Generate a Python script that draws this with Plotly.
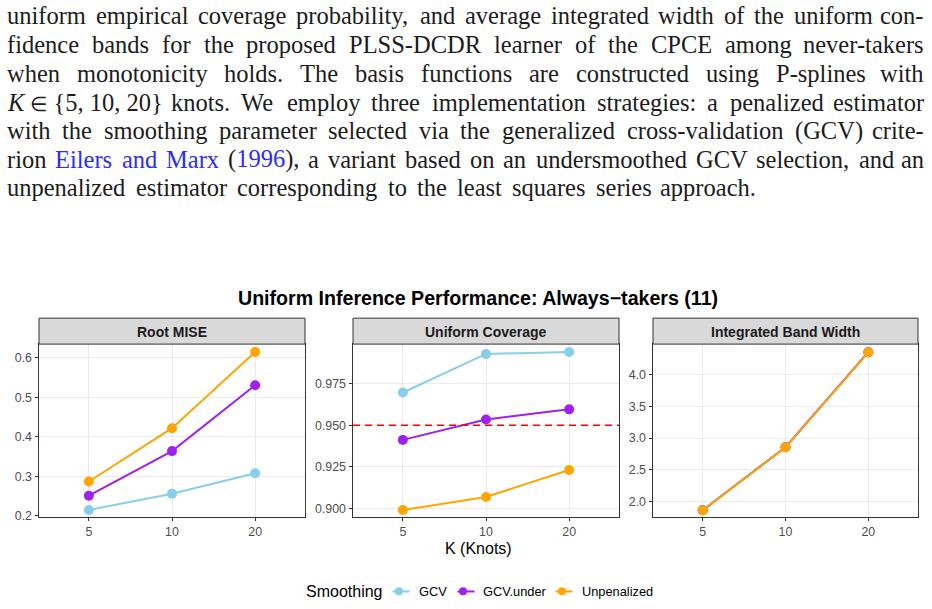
import re
import plotly.graph_objects as go

W, H = 932, 609

# ---------------- data ----------------
knots = ["5", "10", "20"]
series_names = ["GCV", "GCV.under", "Unpenalized"]
series_colors = ["#87CEEB", "#A020F0", "#FFA500"]

rmise_gcv = [0.215, 0.256, 0.308]
rmise_under = [0.251, 0.364, 0.531]
rmise_unpen = [0.287, 0.422, 0.615]

cov_gcv = [0.9696, 0.9927, 0.9939]
cov_under = [0.9412, 0.9534, 0.9595]
cov_unpen = [0.8992, 0.9070, 0.9232]

bw_gcv = [1.862, 2.858, 4.358]
bw_under = [1.860, 2.855, 4.355]
bw_unpen = [1.858, 2.853, 4.353]

nominal_level = 0.95

panel_titles = ["Root MISE", "Uniform Coverage", "Integrated Band Width"]
main_title = "Uniform Inference Performance: Always\u2212takers (11)"
x_title = "K (Knots)"
legend_title = "Smoothing"

rmise_ticks = [0.2, 0.3, 0.4, 0.5, 0.6]
cov_ticks = [0.900, 0.925, 0.950, 0.975]
bw_ticks = [2.0, 2.5, 3.0, 3.5, 4.0]

BLUE = "#2b2bff"
paragraph_lines = [
    "uniform empirical coverage probability, and average integrated width of the uniform con-",
    "fidence bands for the proposed PLSS-DCDR learner of the CPCE among never-takers",
    "when monotonicity holds. The basis functions are constructed using P-splines with",
    "<i>K</i>\u00a0<span style='font-size:20px'>\u2208</span>\u00a0{5,\u00a010,\u00a020} knots. We employ three implementation strategies: a penalized estimator",
    "with the smoothing parameter selected via the generalized cross-validation (GCV) crite-",
    f"rion <span style='color:{BLUE}'>Eilers</span> <span style='color:{BLUE}'>and</span> "
    f"<span style='color:{BLUE}'>Marx</span> (<span style='color:{BLUE}'>1996</span>), a variant based on an undersmoothed GCV selection, and an",
    "unpenalized estimator corresponding to the least squares series approach.",
]

# ---------------- helpers ----------------
TW = {
    'a': 444, 'b': 500, 'c': 444, 'd': 500, 'e': 444, 'f': 333, 'g': 500, 'h': 500, 'i': 278,
    'j': 278, 'k': 500, 'l': 278, 'm': 778, 'n': 500, 'o': 500, 'p': 500, 'q': 500, 'r': 333,
    's': 389, 't': 278, 'u': 500, 'v': 500, 'w': 722, 'x': 500, 'y': 500, 'z': 444,
    'A': 722, 'B': 667, 'C': 667, 'D': 722, 'E': 611, 'F': 556, 'G': 722, 'H': 722, 'I': 333,
    'J': 389, 'K': 667, 'L': 611, 'M': 889, 'N': 722, 'O': 722, 'P': 556, 'Q': 722, 'R': 667,
    'S': 556, 'T': 611, 'U': 722, 'V': 722, 'W': 944, 'X': 722, 'Y': 722, 'Z': 611,
    ' ': 250, '\u00a0': 250, ',': 250, '.': 250, '-': 333, '(': 333, ')': 333, '{': 480,
    '}': 480, ':': 278, '\u2208': 600,
}

YS = 1.009  # vertical pixel correction


def text_width(tok, fs):
    plain = re.sub(r'<[^>]*>', '', tok)
    return sum(TW.get(ch, 500) for ch in plain) / 1000.0 * fs


def px_x(px):
    return px / W


def px_y(py):
    return 1 - (py * YS) / H


fig = go.Figure()

# ---------------- traces ----------------
legend_ids = ["legend", "legend2", "legend3"]
panels = [
    ([rmise_gcv, rmise_under, rmise_unpen], "x", "y"),
    ([cov_gcv, cov_under, cov_unpen], "x2", "y2"),
    ([bw_gcv, bw_under, bw_unpen], "x3", "y3"),
]
for pi, (vals, xa, ya) in enumerate(panels):
    for si, v in enumerate(vals):
        fig.add_trace(go.Scatter(
            x=knots, y=v, xaxis=xa, yaxis=ya, mode="lines+markers",
            name=series_names[si], legendgroup=series_names[si],
            showlegend=False,
            line=dict(color=series_colors[si], width=2),
            marker=dict(color=series_colors[si], size=10),
        ))

# legend keys (point glyph; the short line segment is drawn as a shape below)
for si, name in enumerate(series_names):
    fig.add_trace(go.Scatter(
        x=[None], y=[None], mode="markers", name=name, legendgroup=name,
        legend=legend_ids[si], showlegend=True,
        marker=dict(color=series_colors[si], size=8),
    ))

# ---------------- layout geometry ----------------
plot_top, plot_bot = 345, 518
strip_top = 319
panel_x = [(39, 305), (353, 619), (653, 918)]
yranges = [[0.198, 0.635], [0.8952, 0.9986], [1.759, 4.483]]
ytick_sets = [
    (rmise_ticks, [f"{t:.1f}" for t in rmise_ticks]),
    (cov_ticks, [f"{t:.3f}" for t in cov_ticks]),
    (bw_ticks, [f"{t:.1f}" for t in bw_ticks]),
]
SANS = "Liberation Sans, Arial, sans-serif"

axis_common = dict(
    showline=True, linecolor="#333333", linewidth=1, mirror=True,
    showgrid=True, gridcolor="#EBEBEB", gridwidth=1, zeroline=False,
    ticks="outside", ticklen=3.5, tickcolor="#333333", tickwidth=1,
    tickfont=dict(family=SANS, size=12.4, color="#4D4D4D"),
)

layout_axes = {}
for i, (x0, x1) in enumerate(panel_x):
    sfx = "" if i == 0 else str(i + 1)
    layout_axes["xaxis" + sfx] = dict(
        axis_common, domain=[px_x(x0), px_x(x1)], type="category",
        range=[-0.6, 2.6], anchor="y" + sfx,
    )
    layout_axes["yaxis" + sfx] = dict(
        axis_common, domain=[px_y(plot_bot), px_y(plot_top)], range=yranges[i],
        tickvals=ytick_sets[i][0], ticktext=ytick_sets[i][1], anchor="x" + sfx,
    )

shapes = []
annotations = []
for i, (x0, x1) in enumerate(panel_x):
    shapes.append(dict(
        type="rect", xref="paper", yref="paper",
        x0=px_x(x0), x1=px_x(x1), y0=px_y(plot_top), y1=px_y(strip_top),
        fillcolor="#D9D9D9", line=dict(color="#333333", width=1), layer="above",
    ))
    annotations.append(dict(
        text=f"<b>{panel_titles[i]}</b>", xref="paper", yref="paper",
        x=px_x((x0 + x1) / 2), y=px_y((strip_top + plot_top) / 2 + 0.5),
        xanchor="center", yanchor="middle", showarrow=False,
        font=dict(family=SANS, size=14, color="#1A1A1A"),
    ))

# nominal coverage line
shapes.append(dict(
    type="line", xref="x2 domain", yref="y2", x0=0, x1=1,
    y0=nominal_level, y1=nominal_level,
    line=dict(color="#FF0000", width=1.6, dash="7px,5px"),
))

# main title
annotations.append(dict(
    text=f"<b>{main_title}</b>", xref="paper", yref="paper",
    x=px_x(478.5), y=px_y(299), xanchor="center", yanchor="middle",
    showarrow=False, font=dict(family=SANS, size=19.6, color="black"),
))
# x title
annotations.append(dict(
    text=x_title, xref="paper", yref="paper",
    x=px_x(478.5), y=px_y(549.5), xanchor="center", yanchor="middle",
    showarrow=False, font=dict(family=SANS, size=16, color="black"),
))
# legend title
annotations.append(dict(
    text=legend_title, xref="paper", yref="paper",
    x=px_x(305), y=px_y(593), xanchor="left", yanchor="middle",
    showarrow=False, font=dict(family=SANS, size=16, color="black"), borderpad=0,
))

# ---------------- paragraph (justified) ----------------
FS = 24.5
LX0, LX1 = 6, 925
LAST_END = 757
baselines = [24, 53, 82, 110.5, 139, 167.5, 196]
pfont = dict(family="Liberation Serif, Times New Roman, serif", size=FS, color="#1c1c1c")
for li, line in enumerate(paragraph_lines):
    yc = px_y(baselines[li] - 0.33 * FS)
    right = LAST_END if li == len(paragraph_lines) - 1 else LX1
    words = re.split(r' (?![^<]*>)', line)
    widths = [text_width(w, FS) for w in words]
    gap = (right - LX0 - sum(widths)) / (len(words) - 1)
    pos = LX0
    for wi, wd in enumerate(words):
        last = wi == len(words) - 1
        annotations.append(dict(
            text=wd, xref="paper", yref="paper", x=px_x(right if last else pos), y=yc,
            xanchor="right" if last else "left", yanchor="middle", showarrow=False,
            font=pfont, borderpad=0,
        ))
        pos += widths[wi] + gap

# ---------------- legends (one per series, positioned like the reference) ----------------
legend_text_start = [419, 483, 582]
legend_key_center = [401, 466, 564]
legend_common = dict(
    orientation="h", yanchor="middle", y=px_y(593), xanchor="left",
    font=dict(family=SANS, size=12.8, color="black"),
    itemwidth=30, bgcolor="rgba(0,0,0,0)", borderwidth=0,
)
legends = {}
for lid, ts in zip(legend_ids, legend_text_start):
    legends[lid] = dict(legend_common, x=px_x(ts - 40))
for si, cx in enumerate(legend_key_center):
    shapes.append(dict(
        type="line", xref="paper", yref="paper",
        x0=px_x(cx - 8.5), x1=px_x(cx + 8.5), y0=px_y(593), y1=px_y(593),
        line=dict(color=series_colors[si], width=2), layer="above",
    ))

fig.update_layout(
    width=W, height=H,
    margin=dict(l=0, r=0, t=0, b=0),
    paper_bgcolor="white", plot_bgcolor="white",
    shapes=shapes, annotations=annotations,
    showlegend=True,
    **legends,
    **layout_axes,
)

fig.write_html("out.html")
